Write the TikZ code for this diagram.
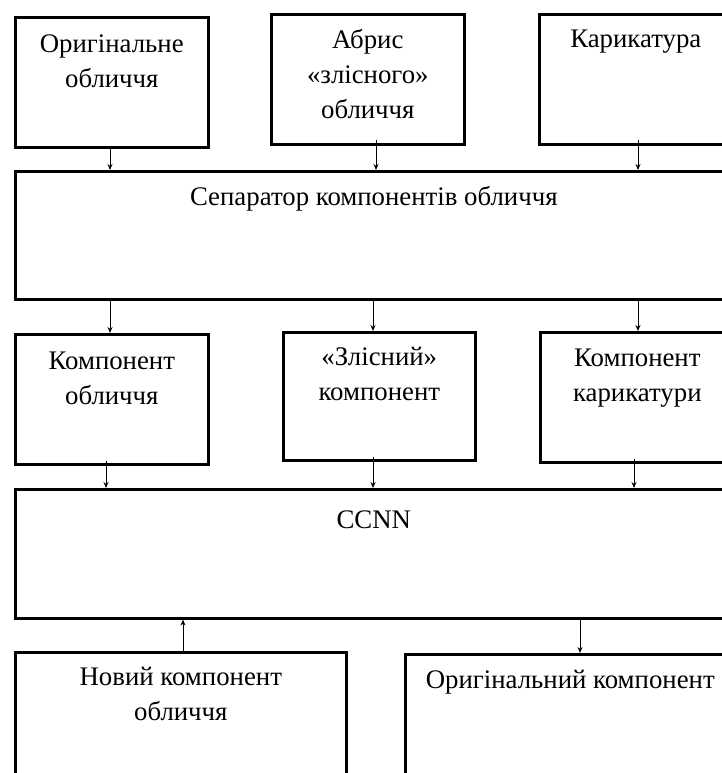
\documentclass[tikz,border=0pt]{standalone}
\usepackage{fontspec}
\setmainfont{Liberation Serif}
\usetikzlibrary{arrows.meta}
\begin{document}
\begin{tikzpicture}[x=1pt,y=-1pt,
  box/.style={draw,line width=2.6pt,rectangle,inner sep=0pt,anchor=north west},
  txt/.style={font=\fontsize{26.8}{35}\selectfont,align=center,inner sep=0pt,anchor=base},
  arr/.style={line width=0.9pt,-{Stealth[length=6pt,width=5pt]}}]
\useasboundingbox (0,0) rectangle (722,773);
\clip (0,0) rectangle (722,773);
% top row
\node[box,minimum width=193pt,minimum height=130pt] (b1) at (14,16) {};
\node[box,minimum width=193pt,minimum height=130pt] (b2) at (270,13) {};
\node[box,minimum width=193pt,minimum height=130pt] (b3) at (538,13) {};
\node[txt] (t1) at (b1.center |- 0,88) {Оригінальне\\обличчя};
\node[txt] (t2) at (b2.center |- 0,118) {Абрис\\«злісного»\\обличчя};
\node[txt] (t3) at (b3.center |- 0,48) {Карикатура};
% separator
\node[box,minimum width=717pt,minimum height=128pt] (sep) at (14,170) {};
\node[txt] (tsep) at (sep.center |- 0,205) {Сепаратор компонентів обличчя};
% middle row
\node[box,minimum width=193pt,minimum height=130pt] (c1) at (14,333) {};
\node[box,minimum width=192pt,minimum height=128pt] (c2) at (282,331) {};
\node[box,minimum width=194pt,minimum height=130pt] (c3) at (539,331) {};
\node[txt] (tc1) at (c1.center |- 0,404) {Компонент\\обличчя};
\node[txt] (tc2) at (c2.center |- 0,400) {«Злісний»\\компонент};
\node[txt] (tc3) at (c3.center |- 0,401) {Компонент\\карикатури};
% CCNN
\node[box,minimum width=717pt,minimum height=129pt] (ccnn) at (14,488) {};
\node[txt] (tccnn) at (ccnn.center |- 0,528) {CCNN};
% bottom row
\node[box,minimum width=331pt,minimum height=200pt] (n1) at (14,651) {};
\node[box,minimum width=330pt,minimum height=200pt] (n2) at (404,653) {};
\node[txt] (tn1) at (n1.center |- 0,720) {Новий компонент\\обличчя};
\node[txt] (tn2) at (n2.center |- 0,688) {Оригінальний компонент};
% arrow x positions
\coordinate (xa) at (110,0);
\coordinate (xb) at (376,0);
\coordinate (xc) at (638,0);
\coordinate (xd) at (106,0);
\coordinate (xe) at (373,0);
\coordinate (xf) at (634,0);
\coordinate (xg) at (183,0);
\coordinate (xh) at (580,0);
% arrows
\draw[arr] (b1.south -| xa) -- (sep.north -| xa);
\draw[arr] ([yshift=6pt]b2.south -| xb) -- (sep.north -| xb);
\draw[arr] ([yshift=6pt]b3.south -| xc) -- (sep.north -| xc);
\draw[arr] (sep.south -| xa) -- (c1.north -| xa);
\draw[arr] (sep.south -| xe) -- (c2.north -| xe);
\draw[arr] (sep.south -| xc) -- (c3.north -| xc);
\draw[arr] ([yshift=5pt]c1.south -| xd) -- (ccnn.north -| xd);
\draw[arr] ([yshift=5pt]c2.south -| xe) -- (ccnn.north -| xe);
\draw[arr] ([yshift=5pt]c3.south -| xf) -- (ccnn.north -| xf);
\draw[arr] (n1.north -| xg) -- (ccnn.south -| xg);
\draw[arr] (ccnn.south -| xh) -- (n2.north -| xh);
\end{tikzpicture}
\end{document}
